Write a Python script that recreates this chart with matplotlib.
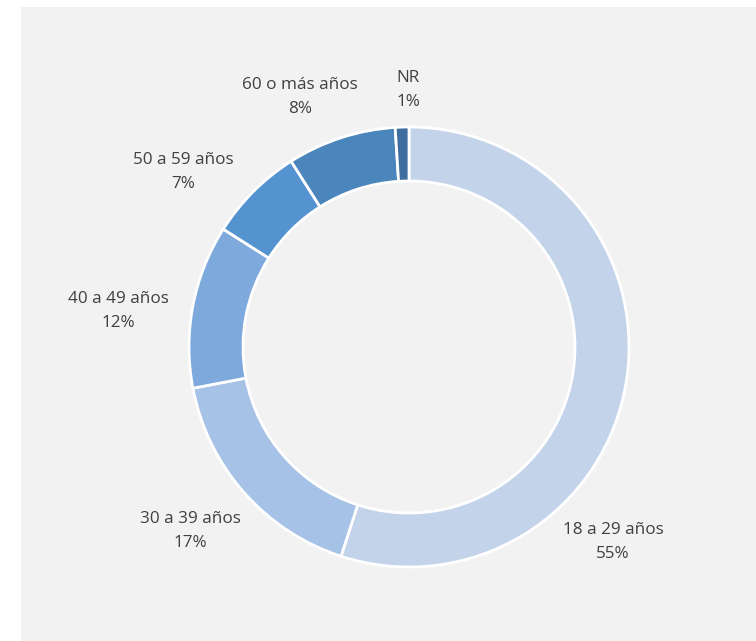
import matplotlib.pyplot as plt
from matplotlib.patches import Rectangle

# datos
categorias = ['18 a 29 años', '30 a 39 años', '40 a 49 años', '50 a 59 años', '60 o más años', 'NR']
valores = [55, 17, 12, 7, 8, 1]
colores = ['#c3d4ea', '#a6c2e6', '#7ea9dc', '#5593d0', '#4a85bb', '#3e6d9f']

# posiciones de etiquetas (pixeles, origen arriba-izquierda)
pos_etiquetas = [(613, 542), (190, 531), (118, 311), (183, 172), (300, 97), (408, 90)]

W, H = 756, 641
fig = plt.figure(figsize=(W / 100, H / 100), dpi=100)
ax = fig.add_axes([0, 0, 1, 1])

# fondo gris
ax.add_patch(Rectangle((21, 0), W - 21, H - 7, facecolor='#f2f2f2', edgecolor='none', zorder=0))

ax.pie(valores, colors=colores, startangle=90, counterclock=False,
       center=(409, H - 347), radius=220, frame=True,
       wedgeprops=dict(width=54, edgecolor='white', linewidth=2))
ax.set_xlim(0, W)
ax.set_ylim(0, H)
ax.set_aspect('equal')
ax.axis('off')

for cat, v, (x, y) in zip(categorias, valores, pos_etiquetas):
    ax.text(x, H - y, f'{cat}\n{v}%', ha='center', va='center', fontsize=12.3,
            color='#404040', family='Open Sans', linespacing=1.65)

fig.savefig('out.png', dpi=100, facecolor='white')
